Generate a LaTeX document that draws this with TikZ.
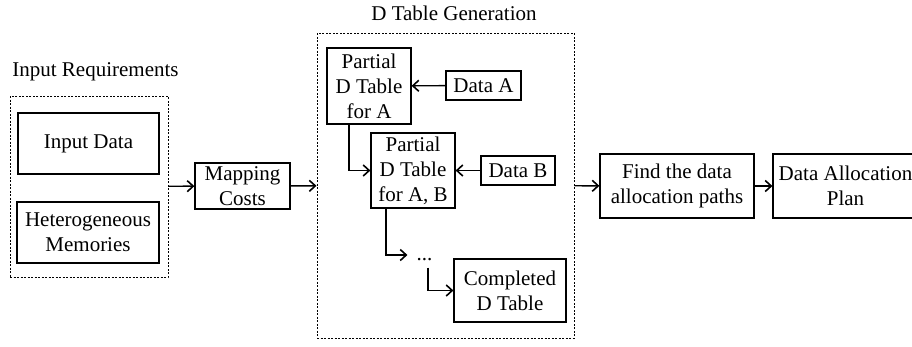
\documentclass[tikz,border=0pt]{standalone}
\usepackage{fontspec}
\setmainfont{Liberation Serif}
\usepackage{tikz}
\usetikzlibrary{positioning,fit,calc,arrows,arrows.meta}
\tikzset{dtext/.style={font=\fontsize{21}{25}\selectfont, align=center, inner sep=0pt}}
\tikzset{dbox/.style args={#1x#2}{dtext, draw, line width=1.2pt, minimum width=#1pt, minimum height=#2pt}}
\tikzset{dgroup/.style args={#1x#2}{draw, line width=1pt, dash pattern=on 2pt off 1.5pt, minimum width=#1pt, minimum height=#2pt, inner sep=0pt}}
\tikzset{arr/.style={draw, -{Straight Barb[length=6pt, width=11pt, line width=1.6pt]}, line width=1.4pt}}

\begin{document}
\begin{tikzpicture}[x=1pt, y=-1pt]
			\useasboundingbox (0,0) rectangle (912,346);
			% input requirements
			\node[dgroup=158x181] (inreq) at (89,186.5) {};
			\node[dtext] (inreqT) at (95.5,72) {Input Requirements};
			\node[dbox=141x61] (indata) at (88.5,143.5) {Input Data};
			\node[dbox=142x61] (hetmem) at (88,232.5) {Heterogeneous\\Memories};
			\node[dbox=95x46] (mapping) at (242.5,186) {Mapping\\Costs};
			%
			% D table generation
			\node[dgroup=257x305] (dgen) at (445.5,185.5) {};
			\node[dtext] (dgenT) at (454,13) {D Table Generation};
			\node[dbox=84x76] (pa) at (369,86) {Partial\\D Table\\for A};
			\node[dbox=75x29] (dataA) at (483.5,85.5) {Data A};
			\node[dbox=84x75] (pab) at (413,170.5) {Partial\\D Table\\for A, B};
			\node[dbox=74x29] (dataB) at (518,170.5) {Data B};
			\node[dtext, inner xsep=9pt] (dots) at (424.5,255) {\strut...};
			\node[dbox=112x63] (done) at (510,290.5) {Completed\\D Table};
			%
			\node[dbox=154x64] (find) at (677,186) {Find the data\\allocation paths};
			\node[dbox=145x64] (plan) at (845.5,186) {Data Allocation\\Plan};
			%
			\draw[arr] (inreq) -- (mapping);
			\draw[arr] (mapping) -- (dgen);
			\draw[arr] (dataA) -- (pa);
			\draw[arr] (dataB) -- (pab);
			\draw[arr] ([xshift=-20pt]pa.south) |- (pab.west);
			\draw[arr] ([xshift=-27pt]pab.south) |- (dots.west);
			\draw[arr] ([xshift=3.5pt]dots.south) |- (done.west);
			\draw[arr] (dgen) -- (find);
			\draw[arr] (find) -- (plan);
		\end{tikzpicture}
\end{document}
